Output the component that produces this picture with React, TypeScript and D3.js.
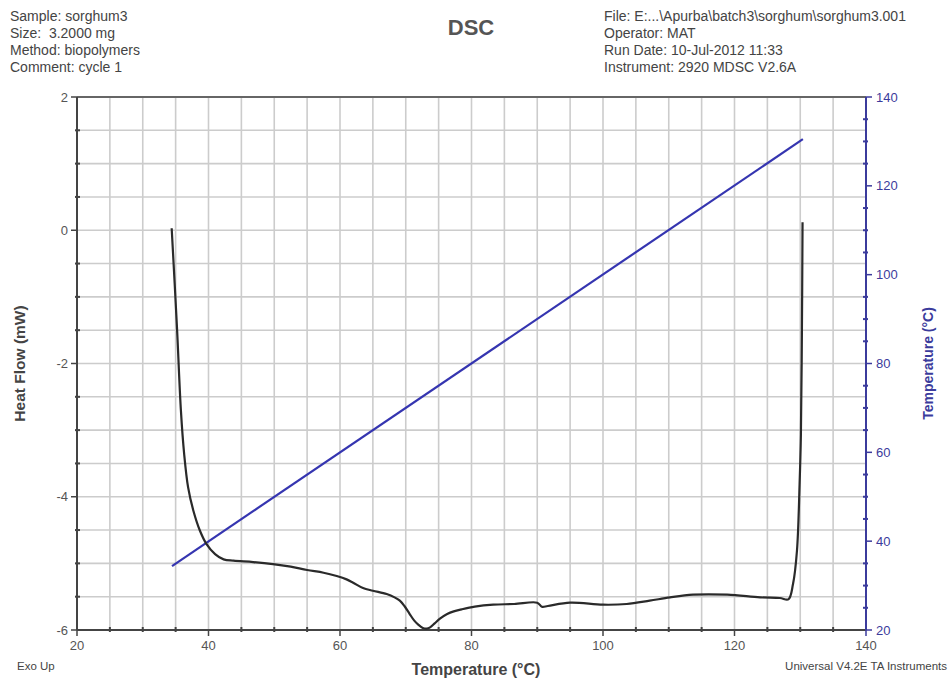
import React from "react";
import * as d3 from "d3";

const headerLeft = ["Sample: sorghum3", "Size:  3.2000 mg", "Method: biopolymers", "Comment: cycle 1"];
const headerRight = [
  "File: E:...\\Apurba\\batch3\\sorghum\\sorghum3.001",
  "Operator: MAT",
  "Run Date: 10-Jul-2012 11:33",
  "Instrument: 2920 MDSC V2.6A",
];

const xTicks = [20, 40, 60, 80, 100, 120, 140];
const yLeftTicks = [2, 0, -2, -4, -6];
const yRightTicks = [140, 120, 100, 80, 60, 40, 20];

// Heat flow curve
const hfTemp = [
  34.4, 35.2, 35.8, 36.3, 36.9, 37.7, 38.7, 39.7, 41.0, 42.3, 43.8, 46.8, 49.8, 52.5, 55.0, 57.5,
  59.5, 61.0, 62.0, 63.5, 65.0, 67.1, 68.3, 69.1, 69.8, 70.6, 71.3, 71.9, 72.6, 73.2, 73.7, 74.4,
  75.2, 76.3, 77.3, 78.5, 80.5, 83.3, 86.5, 90.0, 90.7, 91.6, 95.0, 100.0, 103.6, 107.1, 110.2,
  113.7, 118.9, 123.9, 126.9, 128.2, 128.9, 129.5, 129.9, 130.1, 130.25, 130.35,
];
const hfValue = [
  0.03, -1.45, -2.7, -3.36, -3.86, -4.21, -4.51, -4.71, -4.86, -4.94, -4.96, -4.98, -5.01, -5.05,
  -5.1, -5.14, -5.19, -5.24, -5.29, -5.37, -5.41, -5.46, -5.51, -5.56, -5.64, -5.76, -5.86, -5.92,
  -5.97, -5.98, -5.96, -5.9, -5.83, -5.76, -5.72, -5.69, -5.65, -5.62, -5.61, -5.59, -5.65, -5.64,
  -5.59, -5.62, -5.61, -5.56, -5.51, -5.47, -5.47, -5.51, -5.52, -5.54, -5.31, -4.81, -3.81, -3.06,
  -1.55, 0.12,
];

// Temperature ramp
const rampX = [34.45, 130.4];
const rampT = [34.4, 130.5];

const W = 950;
const H = 679;
const L = 77;
const R = 866;
const T = 97;
const B = 630;

const FONT = "'Liberation Sans', Arial, sans-serif";
const GRAY = "#555";
const BLUE = "#3b3b9c";

export default function App() {
  const x = d3.scaleLinear().domain([20, 140]).range([L, R]);
  const y = d3.scaleLinear().domain([-6, 2]).range([B, T]);
  const y2 = d3.scaleLinear().domain([20, 140]).range([B, T]);

  const vGrid = d3.range(25, 140, 5);
  const hGrid = d3.range(-5.5, 2, 0.5);
  const xMinor = d3.range(25, 140, 5).filter((v) => v % 20 !== 0);
  const yMinor = d3.range(-5.5, 2, 0.5).filter((v) => Math.abs(v % 2) > 1e-9);
  const y2Minor = d3.range(25, 140, 5).filter((v) => v % 20 !== 0);

  const hfData = hfTemp.map((t, i) => [t, hfValue[i]] as [number, number]);
  const hfLine = d3
    .line<[number, number]>()
    .x((d) => x(d[0]))
    .y((d) => y(d[1]))
    .curve(d3.curveCatmullRom.alpha(0.5))(hfData);

  const rampData = rampX.map((t, i) => [t, rampT[i]] as [number, number]);
  const rampLine = d3
    .line<[number, number]>()
    .x((d) => x(d[0]))
    .y((d) => y2(d[1]))(rampData);

  return (
    <div style={{ position: "absolute", left: 0, top: 0 }}>
      <svg width={W} height={H} style={{ display: "block", background: "#fff" }} fontFamily={FONT}>
        {/* header */}
        {headerLeft.map((s, i) => (
          <text key={"hl" + i} x={10} y={21 + i * 17} fontSize={14} fill="#444" xmlSpace="preserve">
            {s}
          </text>
        ))}
        {headerRight.map((s, i) => (
          <text key={"hr" + i} x={604} y={21 + i * 17} fontSize={14} fill="#444">
            {s}
          </text>
        ))}
        <text x={471} y={35} fontSize={22} textAnchor="middle" fill="#555" fontWeight="bold">
          DSC
        </text>

        {/* grid */}
        {vGrid.map((v) => (
          <line key={"vg" + v} x1={x(v)} x2={x(v)} y1={T} y2={B} stroke="#cccccc" strokeWidth={1.6} />
        ))}
        {hGrid.map((v) => (
          <line key={"hg" + v} x1={L} x2={R} y1={y(v)} y2={y(v)} stroke="#cccccc" strokeWidth={1.6} />
        ))}

        {/* frame */}
        <line x1={L} x2={R} y1={T} y2={T} stroke="#666" strokeWidth={2} />
        <line x1={L} x2={R} y1={B} y2={B} stroke="#444" strokeWidth={2} />
        <line x1={L} x2={L} y1={T} y2={B} stroke="#444" strokeWidth={2} />
        <line x1={R} x2={R} y1={T} y2={B} stroke={BLUE} strokeWidth={2} />

        {/* left axis ticks */}
        {yLeftTicks.map((v) => (
          <g key={"yl" + v}>
            <line x1={L - 6} x2={L} y1={y(v)} y2={y(v)} stroke="#444" strokeWidth={1.5} />
            <text x={L - 9} y={y(v) + 4.5} fontSize={13} textAnchor="end" fill={GRAY}>
              {v}
            </text>
          </g>
        ))}
        {yMinor.map((v) => (
          <line key={"ylm" + v} x1={L - 2} x2={L + 3} y1={y(v)} y2={y(v)} stroke="#444" strokeWidth={2} />
        ))}

        {/* bottom axis */}
        {xTicks.map((v) => (
          <g key={"xt" + v}>
            <line x1={x(v)} x2={x(v)} y1={B} y2={B + 6} stroke={v === 140 ? BLUE : "#444"} strokeWidth={1.5} />
            <text x={x(v)} y={B + 20} fontSize={13} textAnchor="middle" fill={GRAY}>
              {v}
            </text>
          </g>
        ))}
        {xMinor.map((v) => (
          <line key={"xm" + v} x1={x(v)} x2={x(v)} y1={B - 3} y2={B + 2} stroke="#444" strokeWidth={2} />
        ))}

        {/* right axis */}
        {yRightTicks.map((v) => (
          <g key={"yr" + v}>
            <line x1={R} x2={R + 6} y1={y2(v)} y2={y2(v)} stroke={BLUE} strokeWidth={1.5} />
            <text x={R + 10} y={y2(v) + 4.5} fontSize={13} fill={BLUE}>
              {v}
            </text>
          </g>
        ))}
        {y2Minor.map((v) => (
          <line key={"yrm" + v} x1={R - 3} x2={R + 2} y1={y2(v)} y2={y2(v)} stroke={BLUE} strokeWidth={2} />
        ))}

        {/* data */}
        <path d={rampLine || ""} fill="none" stroke="#3535b0" strokeWidth={2.2} />
        <path d={hfLine || ""} fill="none" stroke="#2a2a2a" strokeWidth={2.2} />

        {/* axis titles */}
        <text
          transform={`translate(25, ${(T + B) / 2}) rotate(-90)`}
          fontSize={15.5}
          fontWeight="bold"
          textAnchor="middle"
          fill="#444"
        >
          Heat Flow (mW)
        </text>
        <text x={476} y={675} fontSize={16} fontWeight="bold" textAnchor="middle" fill="#444">
          Temperature (°C)
        </text>
        <text
          transform={`translate(933, ${(T + B) / 2}) rotate(-90)`}
          fontSize={14}
          fontWeight="bold"
          textAnchor="middle"
          fill={BLUE}
        >
          Temperature (°C)
        </text>
        <text x={17} y={670} fontSize={11.5} fill="#444">
          Exo Up
        </text>
        <text x={947} y={670} fontSize={11.5} textAnchor="end" fill="#444">
          Universal V4.2E TA Instruments
        </text>
      </svg>
    </div>
  );
}
